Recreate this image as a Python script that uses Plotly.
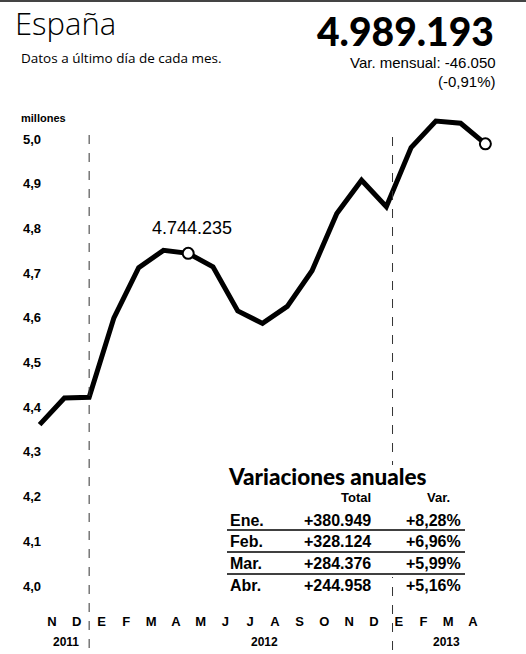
import plotly.graph_objects as go

# ---------------- data ----------------
month_labels = ["N", "D", "E", "F", "M", "A", "M", "J", "J", "A", "S", "O", "N", "D", "E", "F", "M", "A"]
year_labels = ["2011", "2012", "2013"]
# registered unemployment at month end (millions), Oct-2011 .. Apr-2013
period_end = ["oct-11", "nov-11", "dic-11", "ene-12", "feb-12", "mar-12", "abr-12", "may-12",
              "jun-12", "jul-12", "ago-12", "sep-12", "oct-12", "nov-12", "dic-12", "ene-13",
              "feb-13", "mar-13", "abr-13"]
unemployment = [4.360926, 4.420462, 4.422359, 4.599829, 4.712098, 4.750867, 4.744235, 4.714122,
                4.615269, 4.587455, 4.625634, 4.705279, 4.833521, 4.907817, 4.848723, 4.980778,
                5.040222, 5.035243, 4.989193]
highlight_idx = [6, 18]
y_ticks = [4.0, 4.1, 4.2, 4.3, 4.4, 4.5, 4.6, 4.7, 4.8, 4.9, 5.0]
y_ticktext = ["4,0", "4,1", "4,2", "4,3", "4,4", "4,5", "4,6", "4,7", "4,8", "4,9", "5,0"]

table_months = ["Ene.", "Feb.", "Mar.", "Abr."]
table_total = ["+380.949", "+328.124", "+284.376", "+244.958"]
table_var = ["+8,28%", "+6,96%", "+5,99%", "+5,16%"]

headline = "4.989.193"
monthly_change = "Var. mensual: -46.050"
monthly_pct = "(-0,91%)"

# ---------------- geometry helpers ----------------
W, H = 526, 654
ML, MR, MT, MB = 22, 24, 99, 46
PW, PH = W - ML - MR, H - MT - MB

def px(x):
    return (x - ML) / PW

def py(y):
    return (H - MB - y) / PH

# x: month index i centred at pixel 52 + 24.765*i
UNIT = 24.765
xr = [(ML - 52) / UNIT, (W - MR - 52) / UNIT]
yr = [4.0 - (H - MB - 586) / 447.0, 5.0 + (139 - MT) / 447.0]

x_points = [i - 0.5 for i in range(len(unemployment))]

def fmt_es(v):
    s = f"{round(v * 1e6):,}"
    return s.replace(",", ".")

fig = go.Figure()
fig.add_trace(go.Scatter(x=x_points, y=unemployment, mode="lines",
                         line=dict(color="black", width=5), hoverinfo="skip"))
fig.add_trace(go.Scatter(x=[x_points[i] for i in highlight_idx],
                         y=[unemployment[i] for i in highlight_idx], mode="markers",
                         marker=dict(size=11, color="white", line=dict(color="black", width=2)),
                         cliponaxis=False, hoverinfo="skip"))

BOLD = dict(family="Liberation Sans", weight="bold", color="black")
REG = dict(family="Liberation Sans", color="black")

ann = []
def add(text, x, y, size, xanchor="left", font=REG, **kw):
    f = dict(font)
    f["size"] = size
    ann.append(dict(text=text, x=px(x), y=py(y), xref="paper", yref="paper",
                    xanchor=xanchor, yanchor="middle", showarrow=False, font=f, **kw))

add("España", 13, 23, 31, font=dict(family="Open Sans", weight=300, color="black"))
add("Datos a último día de cada mes.", 19, 58, 13.5, font=dict(family="Open Sans", color="black", weight=400))
add(headline, 496, 31, 39, xanchor="right", font=dict(family="Lato", weight=900, color="black"))
add(monthly_change, 498, 63, 15, xanchor="right")
add(monthly_pct, 498, 82, 15, xanchor="right")
add("millones", 19, 118, 11, font=BOLD)

# year labels
for yl, xp in zip(year_labels, [66, 264, 446]):
    add(yl, xp, 642, 12, xanchor="center", font=BOLD)

# peak annotation
ann.append(dict(text=fmt_es(unemployment[highlight_idx[0]]), x=x_points[highlight_idx[0]],
                y=unemployment[highlight_idx[0]], xref="x", yref="y", showarrow=False,
                xshift=4, yshift=25, font=dict(family="Liberation Sans", size=18, color="black")))

# table
add("Variaciones anuales", 226, 476, 22.5, font=dict(family="Lato", weight=900, color="black"))
add("Total", 373, 497, 13, xanchor="right", font=BOLD)
add("Var.", 438, 497, 13, xanchor="center", font=BOLD)
row_y = [520, 541, 563, 585]
for m, t, v, ry in zip(table_months, table_total, table_var, row_y):
    add(m, 228, ry, 16, font=BOLD)
    add(t, 373, ry, 16, xanchor="right", font=BOLD)
    add(v, 463, ry, 16, xanchor="right", font=BOLD)

shapes = []
# top rule
shapes.append(dict(type="line", xref="paper", yref="paper", x0=px(0), x1=px(W), y0=py(1), y1=py(1),
                   line=dict(color="#444", width=2)))
# year separators
for xs, ytop in [(1.5, 135), (13.75, 137)]:
    shapes.append(dict(type="line", xref="x", yref="paper", x0=xs, x1=xs, y0=py(ytop), y1=py(652),
                       line=dict(color="#333", width=1, dash="dash")))
# white table background hides separator
shapes.append(dict(type="rect", xref="paper", yref="paper", x0=px(222), x1=px(470), y0=py(465), y1=py(577),
                   fillcolor="white", line=dict(width=0)))
for ly in [530, 552, 574]:
    shapes.append(dict(type="line", xref="paper", yref="paper", x0=px(227), x1=px(465), y0=py(ly), y1=py(ly),
                       line=dict(color="black", width=1.5)))

fig.update_layout(
    width=W, height=H, margin=dict(l=ML, r=MR, t=MT, b=MB, autoexpand=False),
    plot_bgcolor="white", paper_bgcolor="white", showlegend=False,
    annotations=ann, shapes=shapes,
    xaxis=dict(range=xr, tickmode="array", tickvals=list(range(len(month_labels))), ticktext=month_labels,
               showgrid=False, zeroline=False, showline=False, ticks="", ticklabelstandoff=4,
               tickfont=dict(family="Liberation Sans", size=13, weight="bold", color="black"), fixedrange=True),
    yaxis=dict(range=yr, tickmode="array", tickvals=y_ticks, ticktext=y_ticktext, anchor="free",
               position=px(41), showgrid=False, zeroline=False, showline=False, ticks="",
               tickfont=dict(family="Liberation Sans", size=13, weight="bold", color="black"), fixedrange=True),
)

fig.write_html("out.html", config={"displayModeBar": False},
               post_script="document.body.style.margin='0';document.body.style.overflow='hidden';")
